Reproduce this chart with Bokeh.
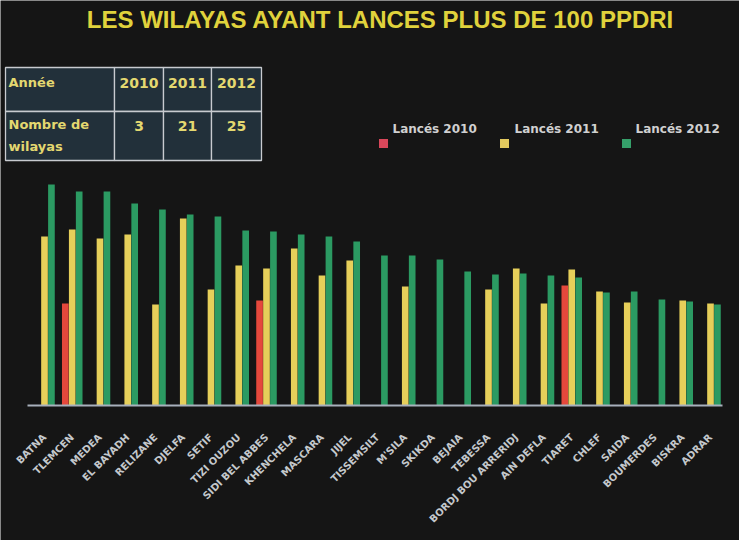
import numpy as np
from bokeh.plotting import figure
from bokeh.models import Range1d
from bokeh.core.properties import value
from bokeh.embed import file_html
from bokeh.resources import INLINE

# ---------------- data ----------------
title_text = "LES WILAYAS AYANT LANCES PLUS DE 100 PPDRI"
wilayas = ["BATNA", "TLEMCEN", "MEDEA", "EL BAYADH", "RELIZANE", "DJELFA", "SETIF",
           "TIZI OUZOU", "SIDI BEL ABBES", "KHENCHELA", "MASCARA", "JIJEL",
           "TISSEMSILT", "M'SILA", "SKIKDA", "BEJAIA", "TEBESSA",
           "BORDJ BOU ARRERIDJ", "AIN DEFLA", "TIARET", "CHLEF", "SAIDA",
           "BOUMERDES", "BISKRA", "ADRAR"]
lances_2010 = [None, 102, None, None, None, None, None, None, 105, None, None, None,
               None, None, None, None, None, None, None, 120, None, None, None, None, None]
lances_2011 = [169, 176, 167, 171, 101, 187, 116, 140, 137, 157, 130, 145,
               None, 119, None, None, 116, 137, 102, 136, 114, 103, None, 105, 102]
lances_2012 = [221, 214, 214, 202, 196, 191, 189, 175, 174, 171, 169, 164,
               150, 150, 146, 134, 131, 132, 130, 128, 113, 114, 106, 104, 101]
table_header = "Année"
table_row = ["Nombre de", "wilayas"]
table_years = ["2010", "2011", "2012"]
table_counts = ["3", "21", "25"]
legend_labels = ["Lancés 2010", "Lancés 2011", "Lancés 2012"]

# ---------------- style ----------------
W, H = 739, 540
BG = "#151515"
RED, YEL, GRN = "#e5483c", "#e6cf5a", "#2b9a62"
LEG_COLORS = ["#d8475a", "#e2c95e", "#35a06a"]
GROUP_PX = 27.75      # pixels per category
X0_PX = 44            # pixel position of first category
BASE_PX = 405         # pixel position of the baseline (from top)

p = figure(width=W, height=H, output_backend="svg", toolbar_location=None,
           title=None,
           x_range=Range1d(-X0_PX / GROUP_PX, (W - X0_PX) / GROUP_PX),
           y_range=Range1d(-(H - BASE_PX), BASE_PX),
           x_axis_type=None, y_axis_type=None, min_border=0,
           background_fill_color=BG, border_fill_color=BG,
           outline_line_color=None)
p.extra_x_ranges = {"px": Range1d(0, W)}
p.extra_y_ranges = {"px": Range1d(H, 0)}
PX = dict(x_range_name="px", y_range_name="px")

# ---------------- bars ----------------
idx = np.arange(len(wilayas))
BW = 0.24
for vals, off, col in [(lances_2010, -0.25, RED), (lances_2011, 0.0, YEL),
                       (lances_2012, 0.25, GRN)]:
    xs = [i + off for i, v in zip(idx, vals) if v is not None]
    ys = [v for v in vals if v is not None]
    p.vbar(x=xs, top=ys, bottom=0, width=BW, fill_color=col, line_color=None)

# baseline
p.segment(x0=[27], x1=[722], y0=[BASE_PX], y1=[BASE_PX], line_color="#a8b0bc",
          line_width=2, **PX)

# category labels
p.text(x=idx, y=[-30] * len(idx), text=wilayas, angle=np.pi / 4,
       text_align="right", text_baseline="middle",
       text_font=value("DejaVu Sans"), text_font_style="bold",
       text_font_size="10px", text_color="#c4c8cc")

# ---------------- title ----------------
p.text(x=[380], y=[19], text=[title_text], text_align="center",
       text_baseline="alphabetic", text_font=value("Liberation Sans"),
       text_font_style="bold", text_font_size="24px", text_color="#e0d23c", **PX)

# ---------------- table ----------------
cx = [5, 114, 163, 211, 261]
ry = [67, 111, 160]
lefts, rights, tops, bottoms = [], [], [], []
for r in range(2):
    for c in range(4):
        lefts.append(cx[c]); rights.append(cx[c + 1])
        tops.append(ry[r]); bottoms.append(ry[r + 1])
p.quad(left=lefts, right=rights, top=tops, bottom=bottoms,
       fill_color="#22303a", line_color="#c8cbd0", line_width=1.3, **PX)
TXT = "#e4d870"
p.text(x=[8], y=[82], text=[table_header], text_align="left", text_baseline="middle",
       text_font=value("DejaVu Sans"), text_font_style="bold", text_font_size="13px",
       text_color=TXT, **PX)
p.text(x=[8, 8], y=[124, 146], text=table_row, text_align="left",
       text_baseline="middle", text_font=value("DejaVu Sans"), text_font_style="bold",
       text_font_size="13px", text_color=TXT, **PX)
ccent = [(cx[i] + cx[i + 1]) / 2 for i in range(1, 4)]
p.text(x=ccent, y=[82] * 3, text=table_years, text_align="center",
       text_baseline="middle", text_font=value("DejaVu Sans"), text_font_style="bold",
       text_font_size="14px", text_color=TXT, **PX)
p.text(x=ccent, y=[125] * 3, text=table_counts, text_align="center",
       text_baseline="middle", text_font=value("DejaVu Sans"), text_font_style="bold",
       text_font_size="14px", text_color=TXT, **PX)

# ---------------- legend ----------------
p.rect(x=[383, 504, 626], y=[143] * 3, width=9, height=9, fill_color=LEG_COLORS,
       line_color=None, **PX)
p.text(x=[392, 514, 635], y=[128] * 3, text=legend_labels, text_align="left",
       text_baseline="middle", text_font=value("DejaVu Sans"), text_font_style="bold",
       text_font_size="12px", text_color="#d0d0d0", **PX)

open("out.html", "w").write(file_html(p, INLINE))
